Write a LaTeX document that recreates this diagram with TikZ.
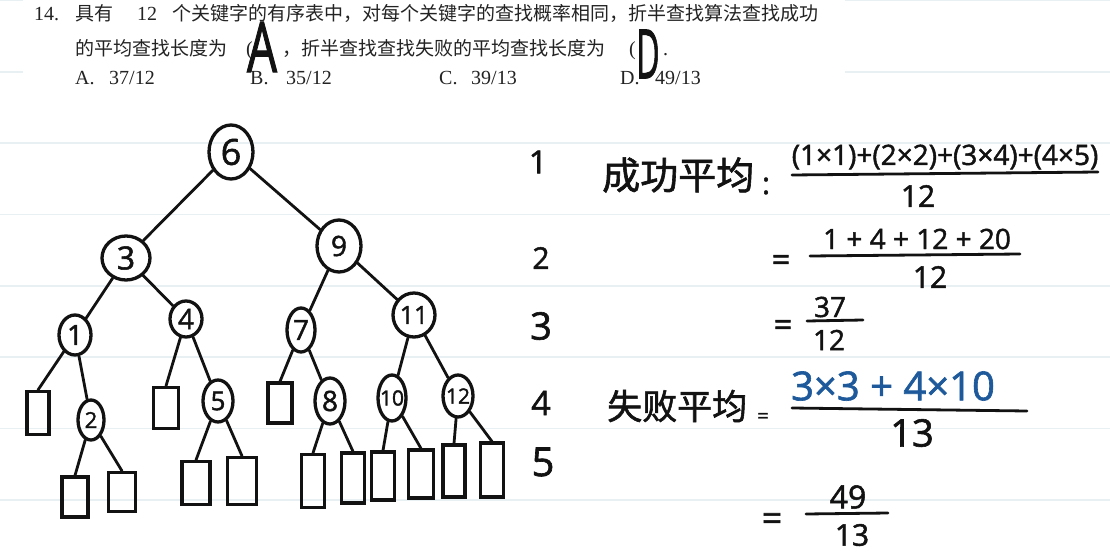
\documentclass[tikz,border=0pt]{standalone}
\usepackage{fontspec}
\usepackage{graphicx}
\setmainfont{Liberation Serif}
\newfontfamily\cjk{Noto Sans CJK SC}
\newfontfamily\cjkhw{Noto Sans CJK SC}[FakeBold=1.6]
\newfontfamily\hand{Open Sans}[FakeBold=1.6]
\usetikzlibrary{shapes.geometric}
\definecolor{ruleblue}{RGB}{232,240,243}
\definecolor{ink}{RGB}{18,18,18}
\definecolor{blueink}{RGB}{30,90,155}
\definecolor{printink}{RGB}{35,35,35}
\newcommand\fsz[1]{\fontsize{#1}{#1}\selectfont}
\begin{document}
\begin{tikzpicture}[x=1pt,y=-1pt,
  tnode/.style={ellipse, draw=ink, line width=3.3pt, inner sep=0pt},
  tlab/.style={font=\hand\fsz{28}, text=ink, inner sep=0pt},
  leaf/.style={rectangle, draw=ink, line width=3.1pt, inner sep=0pt},
  edge/.style={draw=ink, line width=2.8pt, line cap=round},
  lvl/.style={font=\hand\fsz{32}, text=ink, inner sep=0pt},
  hw/.style={font=\hand\fsz{28}, text=ink, inner sep=0pt},
  hwcjk/.style={font=\cjkhw\fsz{38}, text=ink, inner sep=0pt},
  fracrule/.style={draw=ink, line width=2.8pt, line cap=round},
  printed/.style={font=\fsz{20}, text=printink, inner sep=0pt, anchor=base west},
  ruleline/.style={draw=ruleblue, line width=1.6pt}]

\useasboundingbox (0,0) rectangle (1110,556);
\fill[white] (0,0) rectangle (1110,556);
\foreach \k in {0,...,7}{
  \pgfmathsetmacro\yy{0.5+71.35*\k}
  \draw[ruleline] (0,\yy) -- (1110,\yy);
}
\fill[white] (23,-2) rectangle (845,95);

% ---------- printed question ----------
\node[printed] (q14) at (34,21) {14.};
\node[printed] (q1) at (75,21) {{\cjk\fsz{19}具有}\hspace{24pt}12\hspace{15pt}{\cjk\fsz{19}个关键字的有序表中，对每个关键字的查找概率相同，折半查找算法查找成功}};
\node[printed] (q2a) at (75,56) {{\cjk\fsz{19}的平均查找长度为}\hspace{19pt}(};
\node[printed] (q2b) at (282,56) {{\cjk\fsz{19}，折半查找查找失败的平均查找长度为}\hspace{24pt}(};
\node[printed] (q2c) at (663,56) {.};
\node[printed] (oA) at (75,85) {A.};
\node[printed] (oAv) at (109,85) {37/12};
\node[printed] (oB) at (250,85) {B.};
\node[printed] (oBv) at (286,85) {35/12};
\node[printed] (oC) at (439,85) {C.};
\node[printed] (oCv) at (471,85) {39/13};
\node[printed] (oD) at (620,85) {D.};
\node[printed] (oDv) at (655,85) {49/13};
\node[font=\hand\fsz{70}, text=ink, inner sep=0pt] (ansA) at (262,47) {\scalebox{0.68}[1]{A}};
\node[font=\hand\fsz{68}, text=ink, inner sep=0pt] (ansD) at (648,54) {\scalebox{0.47}[1]{D}};

% ---------- tree: keys ----------
\node[tnode, minimum width=44pt, minimum height=54pt, label={[tlab, font=\hand\fsz{36}]center:6}] (n6) at (231,152) {};
\node[tnode, minimum width=48pt, minimum height=44pt, label={[tlab, font=\hand\fsz{32}]center:3}] (n3) at (126,258) {};
\node[tnode, minimum width=44pt, minimum height=52pt, label={[tlab]center:9}] (n9) at (339,246) {};
\node[tnode, minimum width=32pt, minimum height=40pt, label={[tlab]center:1}] (n1) at (75,335) {};
\node[tnode, minimum width=32pt, minimum height=36pt, label={[tlab]center:4}] (n4) at (186,319) {};
\node[tnode, minimum width=28pt, minimum height=44pt, label={[tlab]center:7}] (n7) at (301,330) {};
\node[tnode, minimum width=42pt, minimum height=44pt, label={[tlab, font=\hand\fsz{25}]center:11}] (n11) at (414,315) {};
\node[tnode, minimum width=26pt, minimum height=40pt, label={[tlab, font=\hand\fsz{22}]center:2}] (n2) at (91,420) {};
\node[tnode, minimum width=30pt, minimum height=42pt, label={[tlab, font=\hand\fsz{26}]center:5}] (n5) at (218,401) {};
\node[tnode, minimum width=30pt, minimum height=46pt, label={[tlab]center:8}] (n8) at (330,401) {};
\node[tnode, minimum width=28pt, minimum height=46pt, label={[tlab, font=\hand\fsz{21}]center:10}] (n10) at (392,398) {};
\node[tnode, minimum width=30pt, minimum height=42pt, label={[tlab, font=\hand\fsz{21}]center:12}] (n12) at (458,396) {};

% ---------- tree: failure leaves ----------
\node[leaf, minimum width=22pt, minimum height=43pt] (l1a) at (38,413) {};
\node[leaf, minimum width=26pt, minimum height=40pt] (l2a) at (75,497) {};
\node[leaf, minimum width=27pt, minimum height=39pt] (l2b) at (122,492) {};
\node[leaf, minimum width=25pt, minimum height=41pt] (l4a) at (166,408) {};
\node[leaf, minimum width=28pt, minimum height=43pt] (l5a) at (196,483) {};
\node[leaf, minimum width=29pt, minimum height=47pt] (l5b) at (242,481) {};
\node[leaf, minimum width=24pt, minimum height=40pt] (l7a) at (280,403) {};
\node[leaf, minimum width=23pt, minimum height=53pt] (l8a) at (313,481) {};
\node[leaf, minimum width=23pt, minimum height=50pt] (l8b) at (353,478) {};
\node[leaf, minimum width=23pt, minimum height=48pt] (l10a) at (383,476) {};
\node[leaf, minimum width=25pt, minimum height=48pt] (l10b) at (421,474) {};
\node[leaf, minimum width=22pt, minimum height=52pt] (l12a) at (454,471) {};
\node[leaf, minimum width=23pt, minimum height=54pt] (l12b) at (492,470) {};

% ---------- tree: edges ----------
\draw[edge] (n6) -- (n3);
\draw[edge] (n6) -- (n9);
\draw[edge] (n3) -- (n1);
\draw[edge] (n3) -- (n4);
\draw[edge] (n9) -- (n7);
\draw[edge] (n9) -- (n11);
\draw[edge] (n1) -- (l1a.north);
\draw[edge] (n1) -- (n2);
\draw[edge] (n2) -- (l2a.north);
\draw[edge] (n2) -- (l2b.north);
\draw[edge] (n4) -- (l4a.north);
\draw[edge] (n4) -- (n5);
\draw[edge] (n5) -- (l5a.north);
\draw[edge] (n5) -- (l5b.north);
\draw[edge] (n7) -- (l7a.north);
\draw[edge] (n7) -- (n8);
\draw[edge] (n8) -- (l8a.north);
\draw[edge] (n8) -- (l8b.north);
\draw[edge] (n11) -- (n10);
\draw[edge] (n11) -- (n12);
\draw[edge] (n10) -- (l10a.north);
\draw[edge] (n10) -- (l10b.north);
\draw[edge] (n12) -- (l12a.north);
\draw[edge] (n12) -- (l12b.north);

% ---------- level numbers ----------
\node[lvl] (lv1) at (538,162) {1};
\node[lvl, font=\hand\fsz{30}] (lv2) at (541,258) {2};
\node[lvl, font=\hand\fsz{38}] (lv3) at (541,326) {3};
\node[lvl, font=\hand\fsz{34}] (lv4) at (541,403) {4};
\node[lvl, font=\hand\fsz{40}] (lv5) at (543,462) {5};

% ---------- success average ----------
\node[hwcjk, anchor=west] (cg) at (602,175) {成功平均};
\node[hw, font=\hand\fsz{30}] (cgc) at (766,186) {:};
\node[hw] (num1) at (945,157) {(1×1)+(2×2)+(3×4)+(4×5)};
\draw[fracrule] (792,175) -- (1098,172);
\node[hw, font=\hand\fsz{30}] (den1) at (918,196) {12};
\node[hw, font=\hand\fsz{32}] (eq2) at (781,263) {=};
\node[hw] (num2) at (917,239) {1 + 4 + 12 + 20};
\draw[fracrule] (810,256) -- (1020,254);
\node[hw, font=\hand\fsz{30}] (den2) at (930,277) {12};
\node[hw, font=\hand\fsz{32}] (eq3) at (783,328) {=};
\node[hw] (num3) at (830,307) {37};
\draw[fracrule] (807,321) -- (863,320);
\node[hw] (den3) at (829,340) {12};

% ---------- failure average ----------
\node[hwcjk, font=\cjkhw\fsz{35}, anchor=west] (sb) at (607,406) {失败平均};
\node[hw, font=\hand\fsz{20}] (sbe) at (763,418) {=};
\node[hw, font=\hand\fsz{40}, text=blueink] (num4) at (893,386) {3×3 + 4×10};
\draw[fracrule] (792,408) -- (1027,411);
\node[hw, font=\hand\fsz{38}] (den4) at (912,433) {13};
\node[hw, font=\hand\fsz{36}] (eq5) at (772,522) {=};
\node[hw, font=\hand\fsz{32}] (num5) at (848,497) {49};
\draw[fracrule] (806,514) -- (888,513);
\node[hw, font=\hand\fsz{30}] (den5) at (852,535) {13};
\end{tikzpicture}
\end{document}
